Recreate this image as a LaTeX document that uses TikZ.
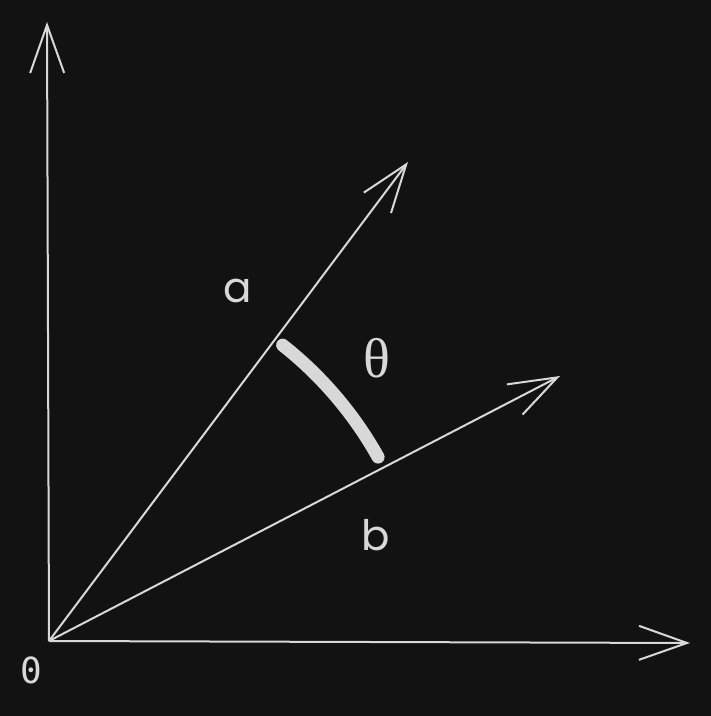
\documentclass[tikz,border=0pt]{standalone}
\usepackage{fontspec}
\newfontfamily\handfont{Poppins}
\newfontfamily\zerofont{DejaVu Sans Mono}
\newfontfamily\greekfont{Liberation Serif}
\usetikzlibrary{arrows.meta}
\definecolor{bg}{HTML}{121212}
\definecolor{ink}{HTML}{D8D8D8}
\begin{document}
\begin{tikzpicture}[x=1pt,y=1pt,
    vec/.style={ink,line width=2pt,-{Straight Barb[length=48pt,width=34pt,line width=2pt]}},
    lbl/.style={text=ink,inner sep=0pt}]
    %% background and frame
    \fill[bg] (0,0) rectangle (711,716);
    \useasboundingbox (0,0) rectangle (711,716);
    %% origin and tips
    \coordinate (O) at (49,75);
    \coordinate (Y) at (47,694);
    \coordinate (X) at (690,73);
    \coordinate (A) at (408,554);
    \coordinate (B) at (560,340);
    %% axes and vectors
    \draw[vec] (O) -- (Y);
    \draw[vec] (O) -- (X);
    \draw[vec] (O) -- (A);
    \draw[vec] (O) -- (B);
    %% angle between a and b
    \draw[ink,line width=13pt,line cap=round] (O) ++(51.7:377) arc[start angle=51.7,end angle=29.2,radius=377];
    %% labels
    \node[lbl,font=\handfont\fontsize{42}{42}\selectfont] (la) at (238,425) {a};
    \node[lbl,font=\handfont\fontsize{42}{42}\selectfont] (lb) at (376,181) {b};
    \node[lbl,font=\greekfont\fontsize{56}{56}\selectfont] (lt) at (377,358) {θ};
    \node[lbl,font=\zerofont\fontsize{36}{36}\selectfont] (lo) at (31,46) {0};
\end{tikzpicture}
\end{document}
